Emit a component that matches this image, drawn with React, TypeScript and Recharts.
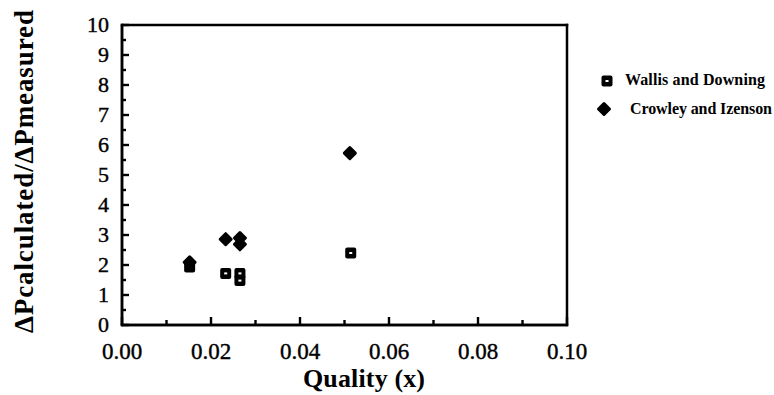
import { ScatterChart, Scatter, XAxis, YAxis, Legend } from 'recharts'

// values
const wallisQuality = [0.0152, 0.0233, 0.0265, 0.0265, 0.0514]
const wallisRatio = [1.93, 1.72, 1.72, 1.48, 2.40]
const crowleyQuality = [0.0152, 0.0233, 0.0265, 0.0265, 0.0512]
const crowleyRatio = [2.09, 2.86, 2.9, 2.69, 5.73]

const xTicks = [0, 0.01, 0.02, 0.03, 0.04, 0.05, 0.06, 0.07, 0.08, 0.09, 0.1]
const xLabelTicks = [0, 0.02, 0.04, 0.06, 0.08, 0.1]
const yTicks = [0, 0.5, 1, 1.5, 2, 2.5, 3, 3.5, 4, 4.5, 5, 5.5, 6, 6.5, 7, 7.5, 8, 8.5, 9, 9.5, 10]

const seriesNames = ['Wallis and Downing', 'Crowley and Izenson']

const wallisData = wallisQuality.map((x, i) => ({ x, y: wallisRatio[i] }))
const crowleyData = crowleyQuality.map((x, i) => ({ x, y: crowleyRatio[i] }))

const FONT = '"Liberation Serif", "Times New Roman", serif'
const INK = '#000'
const AXIS_LINE = { stroke: INK, strokeWidth: 2.5 }

// plot box (chart margins + axis sizes)
const W = 774
const H = 395
const MARGIN = { top: 25, right: 207, bottom: 0, left: 0 }
const Y_AXIS_W = 122
const X_AXIS_H = 70
const PLOT = {
  left: MARGIN.left + Y_AXIS_W,
  top: MARGIN.top,
  right: W - MARGIN.right,
  bottom: H - MARGIN.bottom - X_AXIS_H,
}
const LW = 2.5

const isLabelled = (v: number) => xLabelTicks.some(t => Math.abs(t - v) < 1e-9)

function XTick(props: any) {
  const { x, y, payload } = props
  if (!isLabelled(payload.value)) return <g />
  return (
    <text x={x} y={y + 34} textAnchor="middle" fontFamily={FONT} fontSize={23} fill={INK} stroke={INK} strokeWidth={0.4}>
      {payload.value.toFixed(2)}
    </text>
  )
}

function YTick(props: any) {
  const { x, y, payload } = props
  if (!Number.isInteger(payload.value)) return <g />
  return (
    <text x={x - 13} y={y + 7} textAnchor="end" fontFamily={FONT} fontSize={22} fill={INK} stroke={INK} strokeWidth={0.4}>
      {payload.value}
    </text>
  )
}

// box edges and inward tick marks, drawn as filled bars over the chart
function Frame() {
  const sx = (v: number) => PLOT.left + (v / 0.1) * (PLOT.right - PLOT.left)
  const sy = (v: number) => PLOT.bottom - (v / 10) * (PLOT.bottom - PLOT.top)
  const h = LW / 2
  return (
    <svg width={W} height={H} style={{ position: 'absolute', left: 0, top: 0, pointerEvents: 'none' }}>
      <rect x={PLOT.left - h} y={PLOT.top - h} width={PLOT.right - PLOT.left + LW} height={LW} fill={INK} />
      <rect x={PLOT.right - h} y={PLOT.top - h} width={LW} height={PLOT.bottom - PLOT.top + LW} fill={INK} />
      <rect x={PLOT.left - h} y={PLOT.bottom - h} width={PLOT.right - PLOT.left + LW} height={LW} fill={INK} />
      <rect x={PLOT.left - h} y={PLOT.top - h} width={LW} height={PLOT.bottom - PLOT.top + LW} fill={INK} />
      {xTicks.map(v => {
        const len = isLabelled(v) ? 8 : 5
        return <rect key={'x' + v} x={sx(v) - 1.2} y={PLOT.bottom - len} width={2.4} height={len} fill={INK} />
      })}
      {yTicks.map(v => {
        const len = Number.isInteger(v) ? 7 : 4
        return <rect key={'y' + v} x={PLOT.left} y={sy(v) - 1.2} width={len} height={2.4} fill={INK} />
      })}
    </svg>
  )
}

function SquareMark({ cx, cy }: any) {
  return (
    <g>
      <rect x={cx - 5.5} y={cy - 5.5} width={11} height={11} rx={2} fill={INK} />
      <rect x={cx - 1.5} y={cy - 1} width={3} height={2} fill="#fff" />
    </g>
  )
}

function DiamondMark({ cx, cy }: any) {
  const r = 5.5
  return (
    <path
      d={`M${cx},${cy - r} L${cx + r},${cy} L${cx},${cy + r} L${cx - r},${cy} Z`}
      fill={INK}
      stroke={INK}
      strokeWidth={3}
      strokeLinejoin="round"
    />
  )
}

function LegendBox() {
  return (
    <svg width={178} height={60} style={{ display: 'block' }}>
      <SquareMark cx={11} cy={15} />
      <text x={29} y={19} fontFamily={FONT} fontWeight="bold" fontSize={16} textLength={140}>
        {seriesNames[0]}
      </text>
      <DiamondMark cx={8} cy={43} />
      <text x={34} y={48} fontFamily={FONT} fontWeight="bold" fontSize={16} textLength={142}>
        {seriesNames[1]}
      </text>
    </svg>
  )
}

export default function App() {
  return (
    <div style={{ position: 'absolute', left: 0, top: 0, width: W, height: H, background: '#fff' }}>
      <ScatterChart width={W} height={H} margin={MARGIN}>
        <XAxis
          type="number"
          dataKey="x"
          domain={[0, 0.1]}
          ticks={xTicks}
          interval={0}
          height={X_AXIS_H}
          tickSize={0}
          tickMargin={0}
          tick={<XTick />}
          axisLine={AXIS_LINE}
          label={{
            content: () => (
              <text x={364} y={387} textAnchor="middle" fontFamily={FONT} fontWeight="bold" fontSize={26} textLength={122}>
                Quality (x)
              </text>
            ),
          }}
        />
        <YAxis
          type="number"
          dataKey="y"
          domain={[0, 10]}
          ticks={yTicks}
          interval={0}
          width={Y_AXIS_W}
          tickSize={0}
          tickMargin={0}
          tick={<YTick />}
          axisLine={AXIS_LINE}
          label={{
            content: () => (
              <text
                x={0}
                y={0}
                transform="translate(33, 171.5) rotate(-90)"
                textAnchor="middle"
                fontFamily={FONT}
                fontWeight="bold"
                fontSize={27}
                textLength={323}
              >
                ΔPcalculated/ΔPmeasured
              </text>
            ),
          }}
        />
        <Legend
          layout="vertical"
          align="center"
          verticalAlign="middle"
          content={() => <LegendBox />}
          wrapperStyle={{ left: 596, top: 66, width: 178, height: 60 }}
        />
        <Scatter name={seriesNames[0]} data={wallisData} shape={<SquareMark />} isAnimationActive={false} />
        <Scatter name={seriesNames[1]} data={crowleyData} shape={<DiamondMark />} isAnimationActive={false} />
      </ScatterChart>
      <Frame />
    </div>
  )
}
